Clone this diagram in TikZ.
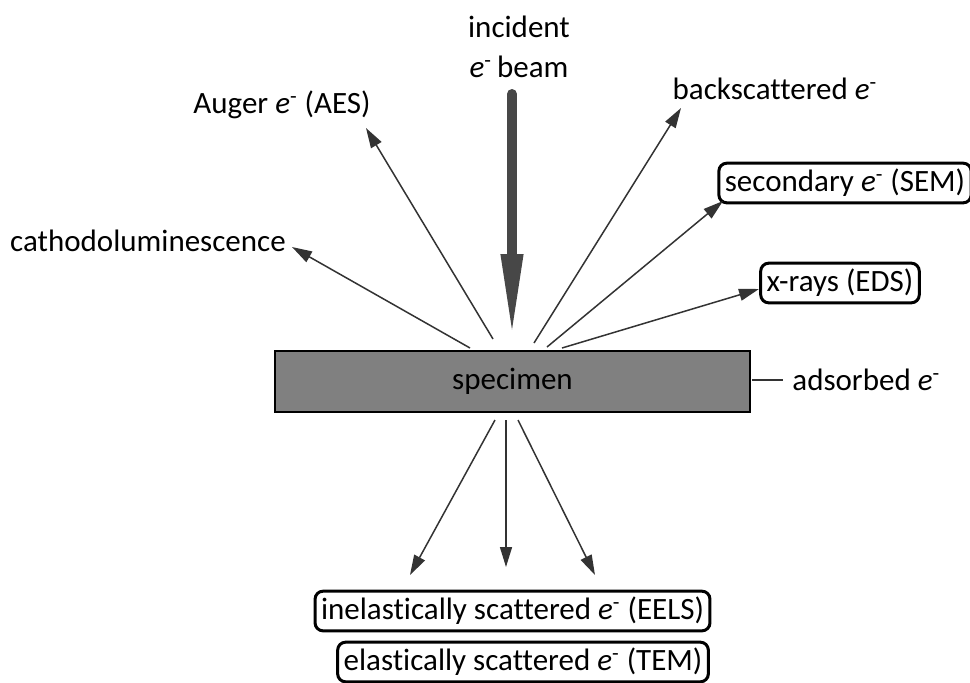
\documentclass[tikz,border=0pt]{standalone}
\usepackage{fontspec}
\setmainfont[Ligatures=NoCommon]{Carlito}
\usetikzlibrary{arrows.meta}
\newcommand\elec{\textit{e}\textsuperscript{-}}
\begin{document}
\begin{tikzpicture}[x=0.5pt,y=-0.5pt,
  every node/.style={font=\fontsize{15.5}{20}\selectfont, inner sep=0pt, text=black},
  boxed/.style={draw=black, line width=1.5pt, rounded corners=4pt, inner xsep=3pt, inner ysep=3pt},
  ray/.style={draw=black!80, line width=0.75pt, -{Triangle[length=10pt,width=6pt]}},
  beam/.style={draw=black!72, line width=5pt, line cap=round, -{Triangle[length=43pt,width=10pt]}}]
\useasboundingbox (0,0) rectangle (970,682);
% specimen
\node[draw=black, line width=1pt, fill=black!50, minimum width=237.5pt, minimum height=30.5pt] (spec) at (512.5,381.5) {specimen};
% labels
\node[align=center] (inc) at (519,47) {incident\\\elec\,beam};
\node (auger) at (282,105) {Auger \elec\ (AES)};
\node (cath) at (148,241) {cathodoluminescence};
\node (back) at (775,89) {backscattered \elec};
\node[boxed] (sec) at (845,183) {secondary \elec\ (SEM)};
\node[boxed] (xr) at (840,283) {x-rays (EDS)};
\node[anchor=west] (ads) at (792,380) {adsorbed \elec};
\node[boxed] (eels) at (512.5,611) {inelastically scattered \elec\ (EELS)};
\node[boxed] (tem) at (523,662) {elastically scattered \elec\ (TEM)};
% coordinates
\coordinate (bt) at (512,94);
\coordinate (bh) at (512,340);
\coordinate (t1) at (470,348); \coordinate (h1) at (292,247);
\coordinate (t2) at (493,339); \coordinate (h2) at (366,128);
\coordinate (t3) at (534,343); \coordinate (h3) at (681,108);
\coordinate (t4) at (547,347); \coordinate (h4) at (723,201);
\coordinate (t5) at (562,348); \coordinate (h5) at (759,289);
\coordinate (b1) at (495,420); \coordinate (d1) at (410,575);
\coordinate (b2) at (506,420); \coordinate (d2) at (506,567);
\coordinate (b3) at (518,420); \coordinate (d3) at (595,575);
\coordinate (a1) at (752,380); \coordinate (a2) at (783,380);
% connectors
\draw[beam] (bt) -- (bh);
\draw[ray] (t1) -- (h1);
\draw[ray] (t2) -- (h2);
\draw[ray] (t3) -- (h3);
\draw[ray] (t4) -- (h4);
\draw[ray] (t5) -- (h5);
\draw[ray] (b1) -- (d1);
\draw[ray] (b2) -- (d2);
\draw[ray] (b3) -- (d3);
\draw[draw=black!80, line width=0.6pt] (a1) -- (a2);
\end{tikzpicture}
\end{document}
